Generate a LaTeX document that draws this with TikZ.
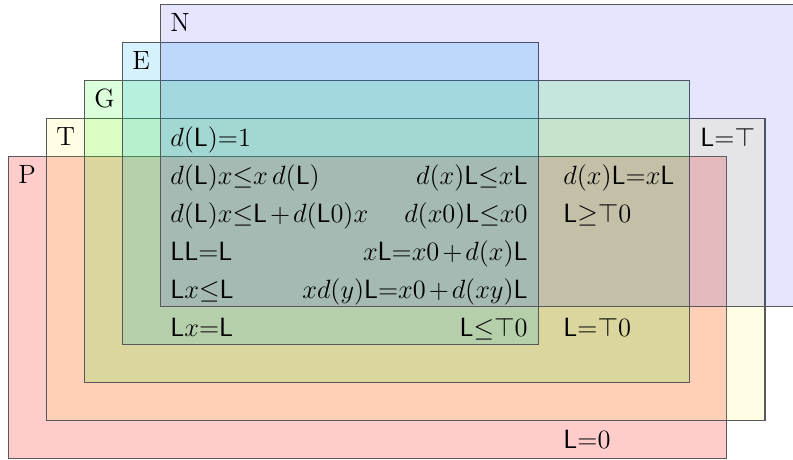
\documentclass[tikz,border=0pt]{standalone}
\thickmuskip=0mu
\medmuskip=2mu
\begin{document}
\begin{tikzpicture}[x=0.4545pt,y=-0.4545pt,
  every node/.style={font=\fontsize{12}{14}\selectfont},
  setbox/.style={draw=black!65, line width=0.55pt},
  lab/.style={anchor=base west, inner sep=0pt},
  eql/.style={anchor=base west, inner sep=0pt},
  eqr/.style={anchor=base east, inner sep=0pt}]
\clip (0,0) rectangle (793,459);
% sets
\path[setbox, fill=red, fill opacity=0.2] (8.3,156.3) rectangle (726.7,458.3);
\path[setbox, fill=yellow, fill opacity=0.1] (46.3,118.3) rectangle (765,420.7);
\path[setbox, fill=green, fill opacity=0.14] (84.3,80.3) rectangle (689.5,382.7);
\path[setbox, fill=cyan, fill opacity=0.17] (122.3,42.3) rectangle (538.3,344.7);
\path[setbox, fill=blue, fill opacity=0.1] (160.3,4.3) rectangle (820,306.7);
% set labels
\node[lab] (lN) at (170,31.7) {N};
\node[lab] (lE) at (132,69.7) {E};
\node[lab] (lG) at (94,107.7) {G};
\node[lab] (lT) at (56,145.7) {T};
\node[lab] (lP) at (18,183.7) {P};
% left column
\node[eql] (a1) at (170,146.7) {$d(\mathsf{L})=1$};
\node[eql] (a2) at (170,184.7) {$d(\mathsf{L})x\leq x\,d(\mathsf{L})$};
\node[eql] (a3) at (170,222.7) {$d(\mathsf{L})x\leq \mathsf{L}+d(\mathsf{L}0)x$};
\node[eql] (a4) at (170,260.7) {$\mathsf{LL}=\mathsf{L}$};
\node[eql] (a5) at (170,298.7) {$\mathsf{L}x\leq \mathsf{L}$};
\node[eql] (a6) at (170,336.7) {$\mathsf{L}x=\mathsf{L}$};
% right-aligned column
\node[eqr] (b2) at (528,184.7) {$d(x)\mathsf{L}\leq x\mathsf{L}$};
\node[eqr] (b3) at (528,222.7) {$d(x0)\mathsf{L}\leq x0$};
\node[eqr] (b4) at (528,260.7) {$x\mathsf{L}=x0+d(x)\mathsf{L}$};
\node[eqr] (b5) at (528,298.7) {$x d(y)\mathsf{L}=x0+d(xy)\mathsf{L}$};
\node[eqr] (b6) at (528,336.7) {$\mathsf{L}\leq \top 0$};
% outer column
\node[eql] (c2) at (563,184.7) {$d(x)\mathsf{L}=x\mathsf{L}$};
\node[eql] (c3) at (563,222.7) {$\mathsf{L}\geq \top 0$};
\node[eql] (c6) at (563,336.7) {$\mathsf{L}=\top 0$};
\node[eql] (c8) at (563,448.7) {$\mathsf{L}=0$};
\node[eql] (t1) at (700,146.7) {$\mathsf{L}=\top$};
\end{tikzpicture}
\end{document}
